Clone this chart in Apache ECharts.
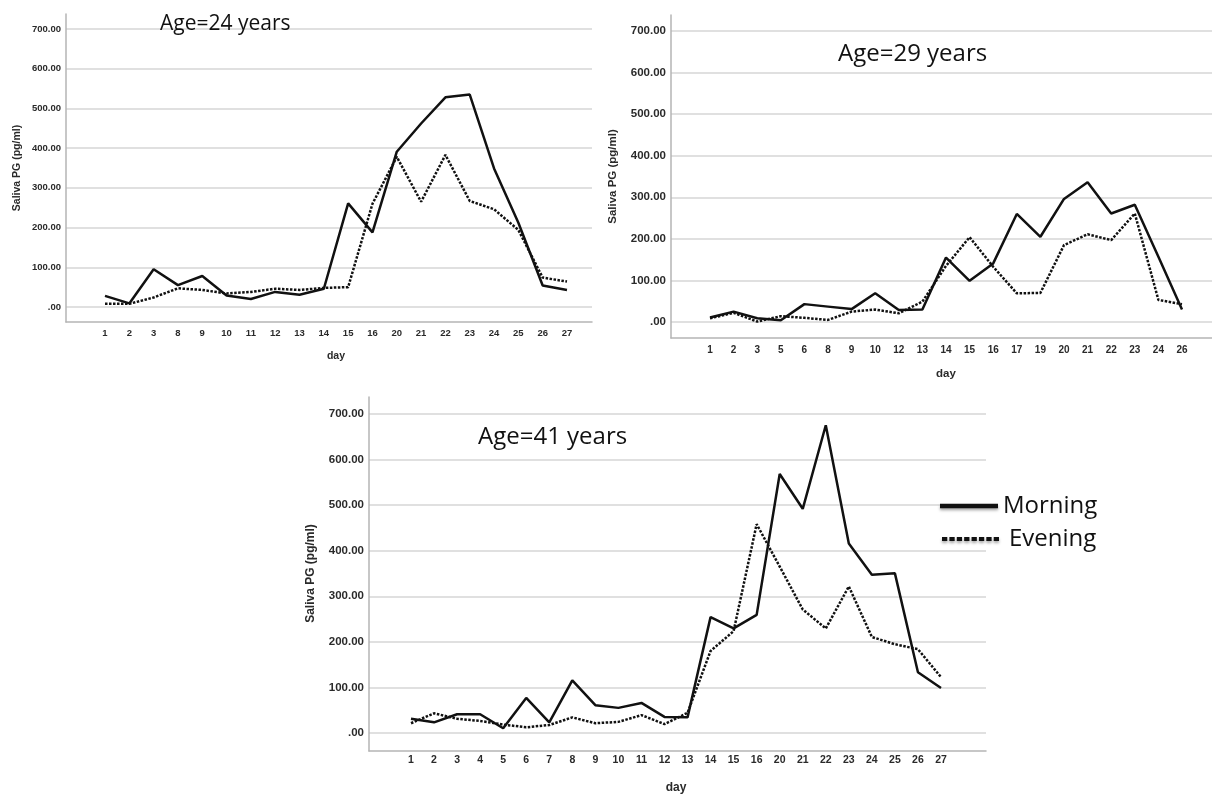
<!DOCTYPE html>
<html>
<head>
<meta charset="utf-8">
<script src="https://cdn.jsdelivr.net/npm/echarts@6/dist/echarts.min.js"></script>
<style>
  html, body { margin: 0; padding: 0; background: #fff; }
  #main { width: 1212px; height: 795px; }
</style>
</head>
<body>
<div id="main"></div>
<script>
// data (pg/ml)
var days24 = ['1', '2', '3', '8', '9', '10', '11', '12', '13', '14', '15', '16', '20', '21', '22', '23', '24', '25', '26', '27'];
var morning24 = [28, 9, 95, 55, 78, 29, 20, 38, 31, 46, 261, 188, 391, 462, 528, 535, 349, 212, 54, 43];
var evening24 = [8, 8, 24, 47, 43, 34, 38, 46, 43, 48, 50, 260, 378, 265, 383, 267, 246, 194, 74, 64];

var days29 = ['1', '2', '3', '5', '6', '8', '9', '10', '12', '13', '14', '15', '16', '17', '19', '20', '21', '22', '23', '24', '26'];
var morning29 = [11, 25, 9, 4, 43, 37, 31, 69, 29, 30, 155, 99, 141, 260, 205, 296, 336, 261, 282, 157, 30];
var evening29 = [9, 22, 1, 14, 10, 5, 25, 30, 21, 49, 135, 204, 133, 69, 70, 185, 211, 197, 261, 53, 43];

var days41 = ['1', '2', '3', '4', '5', '6', '7', '8', '9', '10', '11', '12', '13', '14', '15', '16', '20', '21', '22', '23', '24', '25', '26', '27'];
var morning41 = [25, 17, 35, 35, 4, 71, 17, 110, 55, 49, 60, 29, 28, 250, 225, 255, 567, 490, 675, 413, 344, 347, 128, 93];
var evening41 = [15, 37, 25, 20, 12, 6, 11, 28, 15, 18, 33, 13, 38, 175, 219, 456, 362, 267, 225, 318, 206, 190, 179, 117];

var yTickLabels = ['.00', '100.00', '200.00', '300.00', '400.00', '500.00', '600.00', '700.00'];
var seriesNames = ['Morning', 'Evening'];

// panel layout (pixels), not data
var panels = [
  { title: 'Age=24 years', days: days24, morning: morning24, evening: evening24,
    frame: [66, 14, 592, 322], plot: [29, 307], first: 105, last: 567,
    titlePos: [160, 14], titleSize: 21, tickSize: 9.5, catSize: 9.5, nameSize: 10.5,
    nameGapY: 43, catMargin: 21, nameGapX: 44 },
  { title: 'Age=29 years', days: days29, morning: morning29, evening: evening29,
    frame: [671, 15, 1212, 338], plot: [31, 322], first: 710, last: 1182,
    titlePos: [838, 42], titleSize: 24, tickSize: 11.5, catSize: 10, nameSize: 11.5,
    nameGapY: 52, catMargin: 23, nameGapX: 46 },
  { title: 'Age=41 years', days: days41, morning: morning41, evening: evening41,
    frame: [369, 397, 986, 751], plot: [414, 733], first: 411, last: 941,
    titlePos: [478, 425], titleSize: 24, tickSize: 11.5, catSize: 10.5, nameSize: 12,
    nameGapY: 52, catMargin: 25, nameGapX: 52 }
];

var textColor = '#2a2a2a';
var grids = [], xAxes = [], yAxes = [], series = [], titles = [];

panels.forEach(function (p, k) {
  var L = p.frame[0], T = p.frame[1], R = p.frame[2], B = p.frame[3];
  var n = p.days.length;
  var band = (p.last - p.first) / (n - 1);

  // frame: axis lines only
  grids.push({ left: L, top: T, width: R - L, height: B - T });
  xAxes.push({ gridIndex: 3 * k, type: 'value', min: 0, max: 1,
    axisLine: { show: true, onZero: false, lineStyle: { color: '#b5b5b5', width: 1.5 } },
    axisTick: { show: false }, axisLabel: { show: false }, splitLine: { show: false } });
  yAxes.push({ gridIndex: 3 * k, type: 'value', min: 0, max: 1,
    axisLine: { show: true, onZero: false, lineStyle: { color: '#b5b5b5', width: 1.5 } },
    axisTick: { show: false }, axisLabel: { show: false }, splitLine: { show: false } });

  // value scale with grid lines and tick labels
  grids.push({ left: L, top: p.plot[0], width: R - L, height: p.plot[1] - p.plot[0] });
  xAxes.push({ gridIndex: 3 * k + 1, type: 'value', show: false, min: 0, max: 1 });
  yAxes.push({ gridIndex: 3 * k + 1, type: 'value', min: 0, max: 700, interval: 100,
    axisLine: { show: false }, axisTick: { show: false },
    axisLabel: { margin: 5, fontSize: p.tickSize, fontWeight: 'bold', color: textColor,
      fontFamily: 'Liberation Sans, Arial, sans-serif',
      formatter: function (v) { return yTickLabels[Math.round(v / 100)]; } },
    splitLine: { lineStyle: { color: '#d6d6d6', width: 1.5 } },
    name: 'Saliva PG (pg/ml)', nameLocation: 'middle', nameGap: p.nameGapY,
    nameTextStyle: { fontSize: p.nameSize, fontWeight: 'bold', color: textColor,
      fontFamily: 'Liberation Sans, Arial, sans-serif' } });

  // the data itself, on category days
  grids.push({ left: p.first - band / 2, top: p.plot[0], width: band * n, height: p.plot[1] - p.plot[0] });
  xAxes.push({ gridIndex: 3 * k + 2, type: 'category', data: p.days, boundaryGap: true,
    axisLine: { show: false }, axisTick: { show: false },
    axisLabel: { margin: p.catMargin, fontSize: p.catSize, fontWeight: 'bold', color: textColor,
      interval: 0, fontFamily: 'Liberation Sans, Arial, sans-serif' },
    name: 'day', nameLocation: 'middle', nameGap: p.nameGapX,
    nameTextStyle: { fontSize: p.nameSize, fontWeight: 'bold', color: textColor,
      fontFamily: 'Liberation Sans, Arial, sans-serif' } });
  yAxes.push({ gridIndex: 3 * k + 2, type: 'value', show: false, min: 0, max: 700 });

  series.push({ name: 'Morning', type: 'line', xAxisIndex: 3 * k + 2, yAxisIndex: 3 * k + 2,
    data: p.morning, symbol: 'none', silent: true, z: 4,
    lineStyle: { color: '#111', width: 2.5 }, itemStyle: { color: '#111' } });
  series.push({ name: 'Evening', type: 'line', xAxisIndex: 3 * k + 2, yAxisIndex: 3 * k + 2,
    data: p.evening, symbol: 'none', silent: true, z: 3,
    lineStyle: { color: '#111', width: 2.5, type: [2.5, 1.5] }, itemStyle: { color: '#111' } });

  titles.push({ text: p.title, left: p.titlePos[0], top: p.titlePos[1], padding: 0,
    textStyle: { fontSize: p.titleSize, fontWeight: 'normal', color: '#111',
      fontFamily: 'Open Sans, sans-serif' } });
});

// legend keys: a plain bar and a row of short dashes
var dashIcon = 'path://M0,0h5v4h-5z M7,0h5v4h-5z M14,0h5v4h-5z M21,0h5v4h-5z M28,0h5v4h-5z M35,0h5v4h-5z M42,0h5v4h-5z M49,0h5v4h-5z';
var keyStyle = { color: '#111', shadowBlur: 3, shadowColor: 'rgba(0,0,0,0.35)', shadowOffsetY: 2 };
var legendText = { fontSize: 24, color: '#111', fontFamily: 'Open Sans, sans-serif' };
var option = {
  animation: false,
  backgroundColor: '#fff',
  title: titles,
  legend: [
    { data: [{ name: seriesNames[0], icon: 'rect' }],
      left: 940, top: 494, padding: 0, itemWidth: 58, itemHeight: 4.5,
      itemStyle: keyStyle, textStyle: legendText, selectedMode: false },
    { data: [{ name: seriesNames[1], icon: dashIcon }],
      left: 942, top: 527, padding: 0, itemWidth: 57, itemHeight: 4.5,
      itemStyle: keyStyle, textStyle: Object.assign({}, legendText, { padding: [0, 0, 0, 5] }),
      selectedMode: false }
  ],
  grid: grids,
  xAxis: xAxes,
  yAxis: yAxes,
  series: series
};

var myChart = echarts.init(document.getElementById('main'), null, { renderer: 'canvas' });
myChart.setOption(option);
</script>
</body>
</html>
